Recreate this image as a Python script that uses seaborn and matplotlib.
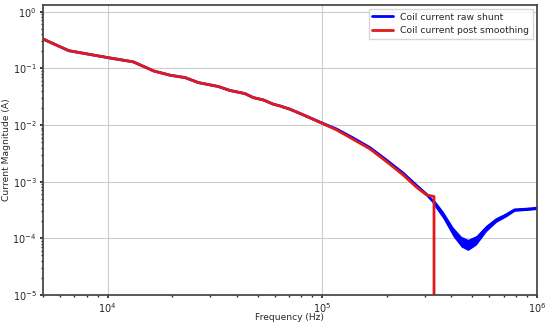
import seaborn as sns
import matplotlib.pyplot as plt
import pandas as pd

# values
freq_smooth = [5000, 6600, 10000, 13200, 16400, 19600, 23000, 26500, 32800, 37200,
               43700, 47800, 53200, 59200, 63600, 70800, 81700, 100000, 116600, 139400,
               166700, 199500, 238000, 275000, 306000, 332000, 332000]
curr_smooth = [0.33, 0.205, 0.155, 0.130, 0.090, 0.0755, 0.0686, 0.056, 0.0478, 0.0407,
               0.0358, 0.0304, 0.0277, 0.0233, 0.0217, 0.019, 0.0151, 0.0107, 0.0082, 0.0056,
               0.0038, 0.00226, 0.00132, 0.00080, 0.000585, 0.000546, 0.0]

freq_raw = [5000, 6600, 10000, 13200, 16400, 19600, 23000, 26500, 32800, 37200,
            43700, 47800, 53200, 59200, 63600, 70800, 81700, 100000, 116600, 139400,
            166700, 199500, 238000, 275000, 306000, 330000, 366000, 407000, 445000, 478000, 522000,
            582000, 648000, 700000, 721000, 788000, 893000, 1000000]
curr_raw = [0.33, 0.205, 0.155, 0.130, 0.090, 0.0755, 0.0686, 0.056, 0.0478, 0.0407,
            0.0358, 0.0304, 0.0277, 0.0233, 0.0217, 0.019, 0.0151, 0.0108, 0.0085, 0.0059,
            0.0040, 0.0024, 0.00142, 0.00086, 0.00060, 0.00044, 0.00026, 0.000132, 0.000088, 0.000077, 0.000093,
            0.000152, 0.000212, 0.000245, 0.00026, 0.000318, 0.000327, 0.00034]

# spread of the noisy raw trace at high frequency
freq_band = [330000, 366000, 407000, 445000, 478000, 522000,
             582000, 648000, 721000, 788000, 893000, 1000000]
band_hi = [0.0005, 0.0003, 0.000158, 0.000108, 0.000096, 0.000112,
           0.000172, 0.000232, 0.00028, 0.000335, 0.000345, 0.000358]
band_lo = [0.00039, 0.000222, 0.000108, 0.00007, 0.000061, 0.000076,
           0.000132, 0.000192, 0.00024, 0.0003, 0.00031, 0.000322]

raw = pd.DataFrame({"freq": freq_raw, "current": curr_raw})
smooth = pd.DataFrame({"freq": freq_smooth, "current": curr_smooth})

sns.set_theme(style="ticks", rc={"font.size": 6.5, "axes.labelsize": 6.6,
                                 "xtick.labelsize": 7, "ytick.labelsize": 7,
                                 "legend.fontsize": 6.7,
                                 "xtick.major.size": 2.5, "ytick.major.size": 2.5,
                                 "xtick.minor.size": 1.5, "ytick.minor.size": 1.5,
                                 "xtick.major.pad": 2, "ytick.major.pad": 2})
plt.rcParams["font.family"] = ["DejaVu Sans"]

fig, ax = plt.subplots(figsize=(5.5, 3.27), dpi=100)
fig.subplots_adjust(left=0.078, right=0.976, top=0.984, bottom=0.098)

ax.fill_between(freq_band, band_lo, band_hi, color="#0000ff", lw=0)
sns.lineplot(data=raw, x="freq", y="current", color="#0000ff", lw=2,
             estimator=None, sort=False, label="Coil current raw shunt", ax=ax)
sns.lineplot(data=smooth, x="freq", y="current", color="#e01b1b", lw=2,
             estimator=None, sort=False, label="Coil current post smoothing", ax=ax)

ax.set_xscale("log")
ax.set_yscale("log")
ax.set_xlim(5000, 1e6)
ax.set_ylim(1e-5, 1.3)
ax.grid(True, which="major", color="#cccccc", lw=0.8)
ax.set_xlabel("Frequency (Hz)")
ax.set_ylabel("Current Magnitude (A)")
ax.xaxis.set_label_coords(0.5, -0.062)
ax.yaxis.set_label_coords(-0.065, 0.5)
for s in ax.spines.values():
    s.set_color("#444444")
ax.legend(loc="upper right", frameon=True, fancybox=False, edgecolor="#cccccc",
          handlelength=2.2, borderaxespad=0.4)

fig.savefig("out.png", dpi=100)
